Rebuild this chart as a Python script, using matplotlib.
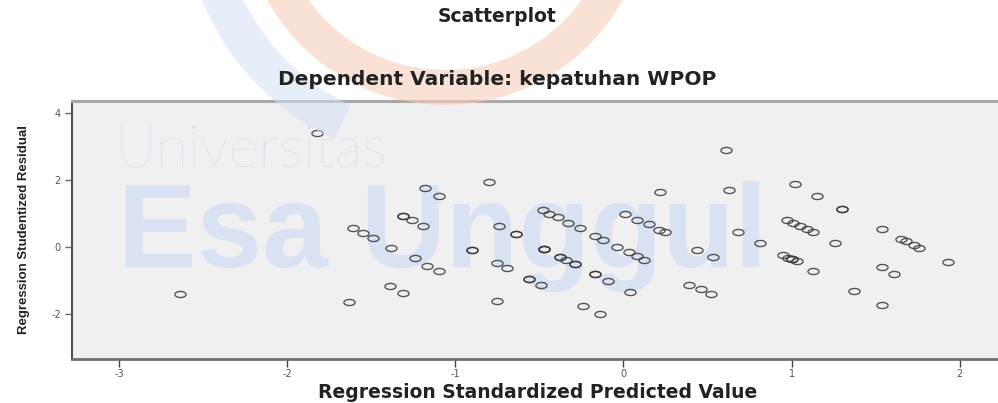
import numpy as np
import matplotlib
matplotlib.use("Agg")
from matplotlib import pyplot as plt
from matplotlib.path import Path
from matplotlib.patches import Wedge

plt.rcParams["axes.unicode_minus"] = False

# standardized predicted value (x) and studentized residual (y)
pred = [-2.64, -1.82, -1.63, -1.61, -1.55, -1.49, -1.38, -1.39, -1.31, -1.31, -1.31,
        -1.26, -1.19, -1.18, -1.10, -1.24, -1.17, -1.10, -0.90, -0.90, -0.80, -0.74,
        -0.64, -0.64, -0.75, -0.69, -0.75, -0.56, -0.56, -0.49, -0.47, -0.47, -0.47,
        -0.48, -0.44, -0.39, -0.33, -0.26, -0.38, -0.38, -0.34, -0.29, -0.29, -0.17,
        -0.12, -0.17, -0.17, -0.09, -0.24, -0.14, -0.04, 0.01, 0.08, 0.15, 0.21,
        0.25, 0.03, 0.08, 0.12, 0.04, 0.22, 0.44, 0.53, 0.39, 0.46, 0.52,
        0.61, 0.63, 0.68, 0.81, 1.02, 1.15, 1.30, 1.30, 0.97, 1.01, 1.05,
        1.09, 1.13, 0.95, 0.98, 1.00, 1.00, 1.03, 1.13, 1.26, 1.37, 1.54,
        1.65, 1.68, 1.73, 1.76, 1.54, 1.61, 1.54, 1.93]
resid = [-1.41, 3.41, -1.65, 0.57, 0.42, 0.28, -0.03, -1.16, -1.37, 0.92, 0.92,
         0.82, 0.64, 1.77, 1.54, -0.34, -0.57, -0.71, -0.09, -0.09, 1.94, 0.64,
         0.38, 0.38, -0.49, -0.63, -1.62, -0.94, -0.94, -1.14, -0.06, -0.06, -0.06,
         1.12, 1.00, 0.89, 0.73, 0.57, -0.30, -0.30, -0.39, -0.51, -0.51, 0.32,
         0.20, -0.81, -0.81, -1.01, -1.75, -2.01, 0.00, 1.00, 0.82, 0.68, 0.52,
         0.44, -0.15, -0.28, -0.39, -1.33, 1.66, -0.08, -0.31, -1.14, -1.26, -1.39,
         2.90, 1.72, 0.44, 0.11, 1.90, 1.54, 1.15, 1.15, 0.82, 0.72, 0.63,
         0.54, 0.46, -0.24, -0.32, -0.36, -0.36, -0.42, -0.70, 0.11, -1.31, 0.54,
         0.24, 0.18, 0.07, -0.02, -0.60, -0.81, -1.74, -0.46]
xticks = [-3, -2, -1, 0, 1, 2]
yticks = [-2, 0, 2, 4]

fig = plt.figure(figsize=(9.98, 4.03), dpi=100)
fig.patch.set_facecolor("white")
ax = fig.add_axes([0.0721, 0.109, 0.93, 0.641])
ax.set_facecolor("#f0f0f0")

# watermark behind the points
ax.text(0.046, 0.744, "Universitas", transform=ax.transAxes, fontsize=42,
        family="Lato", fontweight="light", color="#cfdbef", va="baseline", zorder=0.5)
ax.text(0.05, 0.357, "Esa Unggul", transform=ax.transAxes, fontsize=85,
        family="Liberation Sans", fontweight="bold", color="#d8e2f2",
        va="baseline", zorder=0.5)

# ellipse marker (the picture is stretched sideways)
t = np.linspace(0, 2 * np.pi, 41)
ell = Path(np.column_stack([np.cos(t), 0.55 * np.sin(t)]))
ax.plot(pred, resid, linestyle="none", marker=ell, markersize=8,
        markerfacecolor="none", markeredgecolor="#3a3a3a", markeredgewidth=1.0,
        alpha=0.85, zorder=3)

ax.set_xlim(-3.28, 2.24)
ax.set_ylim(-3.35, 4.38)
ax.set_xticks(xticks)
ax.set_yticks(yticks)
ax.tick_params(axis="x", length=6, width=1, color="#444", labelsize=7,
               labelcolor="#555", pad=1)
ax.tick_params(axis="y", length=5, width=1, color="#666", labelsize=7,
               labelcolor="#555", pad=3)
ax.spines["right"].set_visible(False)
ax.spines["top"].set_color("#a8a8a8")
ax.spines["top"].set_linewidth(2.2)
ax.spines["bottom"].set_color("#707070")
ax.spines["bottom"].set_linewidth(2)
ax.spines["left"].set_color("#505050")
ax.spines["left"].set_linewidth(1.5)

# titles
fig.text(0.498, 0.958, "Scatterplot", ha="center", va="center",
         fontsize=13.5, fontweight="bold", color="#222", zorder=4)
fig.text(0.498, 0.803, "Dependent Variable: kepatuhan WPOP", ha="center",
         va="center", fontsize=14.5, fontweight="bold", color="#222", zorder=4)
fig.text(0.539, 0.026, "Regression Standardized Predicted Value", ha="center",
         va="center", fontsize=13.5, fontweight="bold", color="#222", zorder=4)
fig.text(0.024, 0.43, "Regression Studentized Residual", ha="center", va="center",
         rotation=90, fontsize=9.5, family="Liberation Sans",
         fontweight="bold", color="#222", zorder=4)

# logo arcs of the watermark, in pixel units of the figure
H = 403
ring = Wedge((445, H + 98), 203, 180, 360, width=35, transform=None,
             facecolor="#f8cdb9", edgecolor="none", alpha=0.6, zorder=2)
arc = Wedge((445, H + 98), 262, 180, 245, width=38, transform=None,
            facecolor="#d3e1f6", edgecolor="none", alpha=0.55, zorder=2)
fig.patches.extend([ring, arc])

fig.savefig("out.png", dpi=100)
